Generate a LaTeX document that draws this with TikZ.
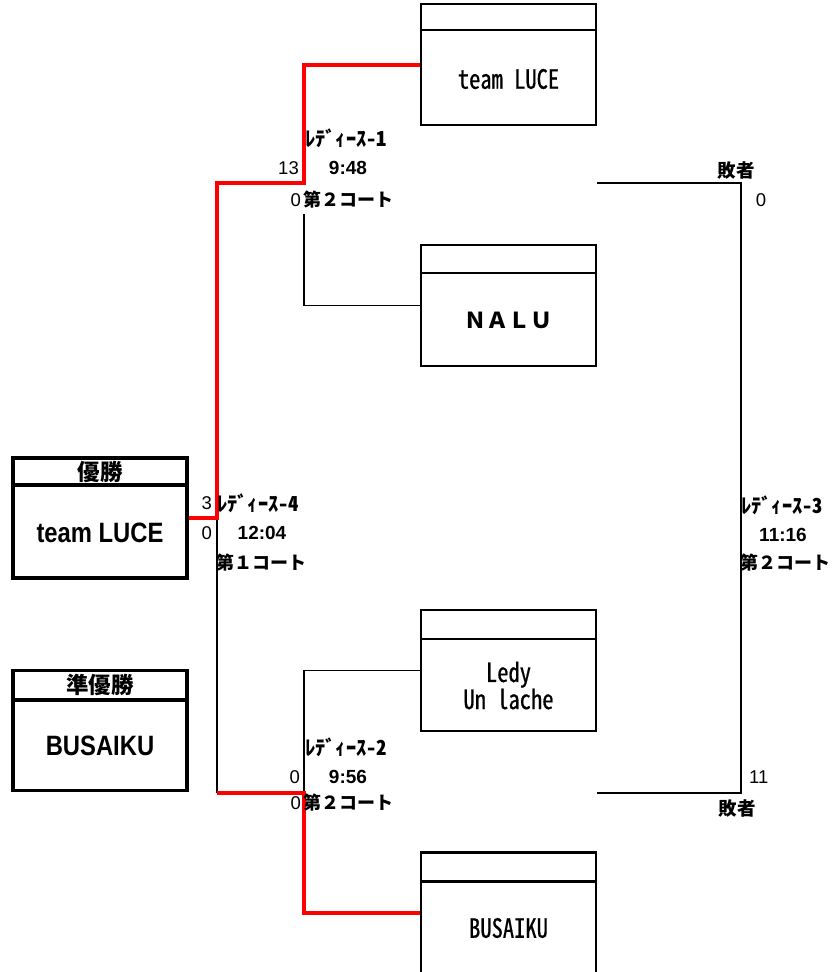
\documentclass[tikz,border=0pt]{standalone}
\usepackage{fontspec}
\newfontfamily\jp{Noto Sans CJK JP}
\newfontfamily\jph[RawFeature=+hwid]{Noto Sans CJK JP}
\newfontfamily\jpn[RawFeature=+hwid, FakeStretch=0.85, FakeBold=0.6]{Noto Sans CJK JP}
\newfontfamily\nm[FakeStretch=0.85]{Liberation Sans}
\newfontfamily\ls{Liberation Sans}
\begin{document}
\begin{tikzpicture}[x=1pt,y=-1pt,
  conn/.style={line width=1.6pt, line join=miter},
  win/.style={draw=red, line width=4pt, line join=miter},
  rbox/.style={draw, line width=2.2pt, minimum width=175pt, minimum height=121pt, inner sep=0pt},
  lbox/.style={draw, line width=3.6pt, minimum width=174pt, minimum height=120pt, inner sep=0pt},
  rname/.style={inner sep=0pt, font=\jpn\fontsize{26.5}{25}\selectfont, align=center},
  lname/.style={inner sep=0pt, font=\nm\bfseries\fontsize{28}{30}\selectfont},
  lhead/.style={inner sep=0pt, font=\jp\bfseries\fontsize{22.5}{24}\selectfont},
  mlabel/.style={inner sep=0pt, anchor=west, font=\jph\bfseries\fontsize{20.5}{22}\selectfont},
  mtime/.style={inner sep=0pt, font=\ls\bfseries\fontsize{19}{22}\selectfont},
  mcourt/.style={inner sep=0pt, anchor=west, font=\jp\bfseries\fontsize{18}{21}\selectfont},
  score/.style={inner sep=0pt, font=\ls\fontsize{18.5}{22}\selectfont},
  loser/.style={inner sep=0pt, font=\jp\bfseries\fontsize{18.5}{21}\selectfont}
]
\useasboundingbox (0,0) rectangle (834,972);

% right-hand team boxes
\node[rbox] (t1) at (508.5,64.5) {};
\node[rbox] (t2) at (508.5,305.5) {};
\node[rbox] (t3) at (508.5,670.5) {};
\node[rbox] (t4) at (508.5,913) {};
\draw[line width=2.2pt] ([yshift=-27pt]t1.north west) -- ([yshift=-27pt]t1.north east);
\draw[line width=2.2pt] ([yshift=-29pt]t2.north west) -- ([yshift=-29pt]t2.north east);
\draw[line width=2.2pt] ([yshift=-30pt]t3.north west) -- ([yshift=-30pt]t3.north east);
\draw[line width=2.2pt] ([yshift=-30pt]t4.north west) -- ([yshift=-30pt]t4.north east);
\node[rname] (n1) at (508.5,79) {team LUCE};
\node[inner sep=0pt, font=\jp\bfseries\fontsize{22}{24}\selectfont] (n2) at (508.5,320) {ＮＡＬＵ};
\node[rname] (n3) at (508.5,685.5) {Ledy\\Un lache};
\node[rname] (n4) at (508.5,928) {BUSAIKU};

% left-hand result boxes
\node[lbox] (champ) at (100,518) {};
\node[lbox] (runner) at (100,730.5) {};
\draw[line width=3.6pt] ([yshift=-29pt]champ.north west) -- ([yshift=-29pt]champ.north east);
\draw[line width=3.6pt] ([yshift=-31pt]runner.north west) -- ([yshift=-31pt]runner.north east);
\node[lhead] (h1) at (100,472) {優勝};
\node[lhead] (h2) at (100,685) {準優勝};
\node[lname] (c1) at (100,532.5) {team LUCE};
\node[lname] (c2) at (100,746) {BUSAIKU};

% junctions
\coordinate (m1) at (304,183);
\coordinate (m1g) at (304,214);
\coordinate (m2) at (304,793);
\coordinate (m2l) at (217,793);
\coordinate (m4) at (217,518);
\coordinate (m3t) at (741,183);
\coordinate (m3b) at (741,793);

% connectors
\draw[conn] (t2.west) -| (m1g);
\draw[conn] (t3.west) -| (m2);
\draw[conn] (m2l) -- (m4);
\draw[conn] (t1.east |- m1) -- (m3t) -- (m3b) -- (t3.east |- m2);
\draw[win] (t1.west) -| (m1) -| (m4) -- (champ.east);
\draw[win] (t4.west) -| (m2) -- (m2l);

% match 1
\node[mlabel] (l1) at (305,138) {ﾚﾃﾞｨｰｽ-1};
\node[mtime] (tm1) at (348,168) {9:48};
\node[score, anchor=east] (s1a) at (299,168) {13};
\node[score, anchor=east] (s1b) at (301,200) {0};
\node[mcourt] (k1) at (303,200) {第２コート};

% match 4
\node[score, anchor=east] (s4a) at (212,503) {3};
\node[mlabel] (l4) at (217,503) {ﾚﾃﾞｨｰｽ-4};
\node[mtime] (tm4) at (262,533) {12:04};
\node[score, anchor=east] (s4b) at (212,533) {0};
\node[mcourt] (k4) at (216,563) {第１コート};

% match 2
\node[mlabel] (l2) at (305,747) {ﾚﾃﾞｨｰｽ-2};
\node[mtime] (tm2) at (348,777) {9:56};
\node[score, anchor=east] (s2a) at (300,777) {0};
\node[score, anchor=east] (s2b) at (301,803) {0};
\node[mcourt] (k2) at (303,803) {第２コート};

% match 3
\node[loser] (ls1) at (736,170) {敗者};
\node[score] (s3a) at (761,200) {0};
\node[mlabel] (l3) at (741,505) {ﾚﾃﾞｨｰｽ-3};
\node[mtime] (tm3) at (783,535) {11:16};
\node[mcourt] (k3) at (740,563) {第２コート};
\node[score, anchor=west] (s3b) at (749,777) {11};
\node[loser] (ls2) at (737,808) {敗者};
\end{tikzpicture}
\end{document}
